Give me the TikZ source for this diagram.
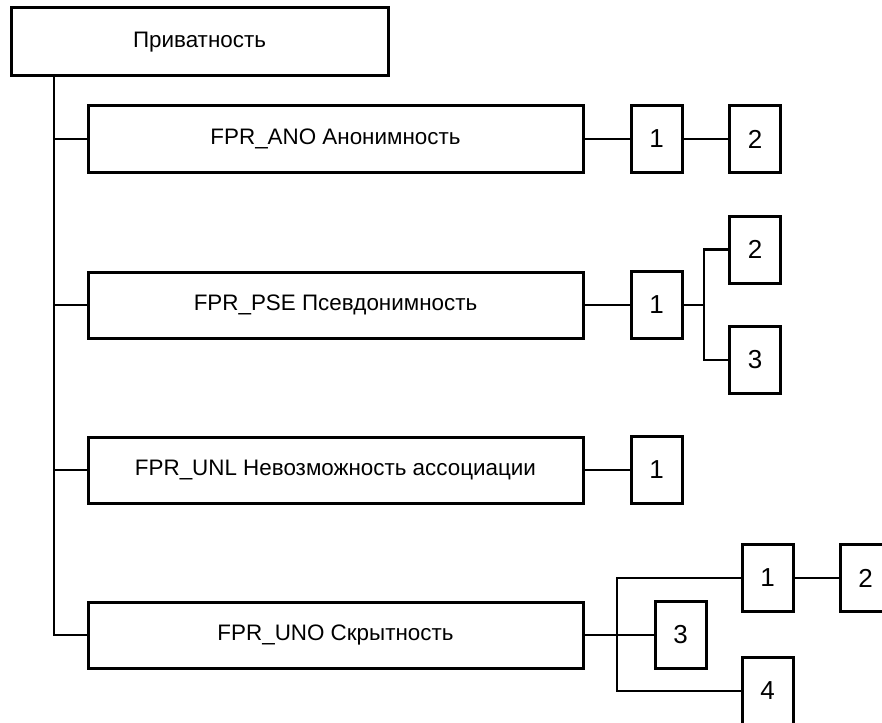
\documentclass[tikz,border=0pt]{standalone}
\usepackage{fontspec}
\setmainfont{Liberation Sans}
\begin{document}
\begin{tikzpicture}[x=1pt,y=-1pt,
  line width=3pt,
  mainbox/.style={draw, rectangle, inner sep=0pt, minimum width=495pt, minimum height=66pt, font=\fontsize{22.4}{26}\selectfont},
  numbox/.style={draw, rectangle, inner sep=0pt, minimum width=51pt, minimum height=67pt, font=\fontsize{26}{30}\selectfont},
  link/.style={line width=2.8pt}]
\useasboundingbox (0,0) rectangle (882,722);
\clip (0,0) rectangle (882,722);
\node[draw, rectangle, inner sep=0pt, minimum width=377pt, minimum height=68pt, font=\fontsize{22.4}{26}\selectfont] (top) at (199.5,42) {Приватность};
\node[mainbox] (ano) at (335.5,139) {FPR\_ANO Анонимность};
\node[mainbox] (pse) at (335.5,305) {FPR\_PSE Псевдонимность};
\node[mainbox] (unl) at (335.5,470) {FPR\_UNL Невозможность ассоциации};
\node[mainbox] (uno) at (335.5,635) {FPR\_UNO Скрытность};
\node[numbox] (ano1) at (656.5,139) {1};
\node[numbox] (ano2) at (755,139) {2};
\node[numbox] (pse1) at (656.5,305) {1};
\node[numbox] (pse2) at (755,249.5) {2};
\node[numbox] (pse3) at (755,360) {3};
\node[numbox] (unl1) at (656.5,470) {1};
\node[numbox] (uno1) at (767.5,578) {1};
\node[numbox] (uno2) at (865.5,578) {2};
\node[numbox] (uno3) at (680.5,635) {3};
\node[numbox] (uno4) at (767.5,691) {4};
\coordinate (trunk) at (54,0);
\coordinate (psebr) at (704,0);
\coordinate (unobr) at (617,0);
\draw[link] (trunk |- top.south) |- (uno.west);
\draw[link] (trunk |- ano.west) -- (ano.west);
\draw[link] (trunk |- pse.west) -- (pse.west);
\draw[link] (trunk |- unl.west) -- (unl.west);
\draw[link] (ano.east) -- (ano1.west);
\draw[link] (ano1.east) -- (ano2.west);
\draw[link] (pse.east) -- (pse1.west);
\draw[link] (pse1.east) -- (psebr |- pse1.east);
\draw[link] (pse2.west) -| (psebr |- pse1.east) |- (pse3.west);
\draw[link] (unl.east) -- (unl1.west);
\draw[link] (uno.east) -- (uno3.west);
\draw[link] (uno1.west) -| (unobr |- uno.east) |- (uno4.west);
\draw[link] (uno1.east) -- (uno2.west);
\end{tikzpicture}
\end{document}
